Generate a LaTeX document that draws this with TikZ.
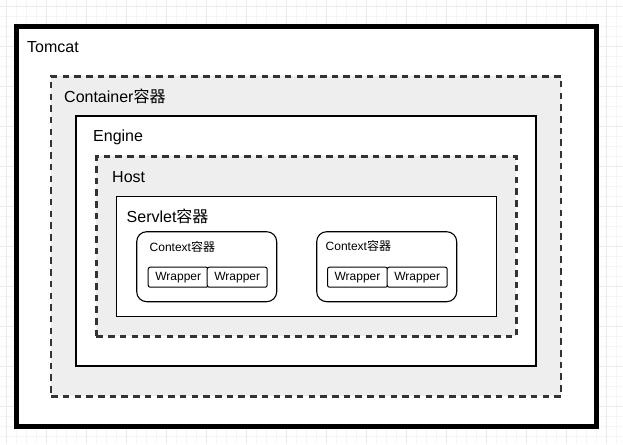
\documentclass[tikz,border=0pt]{standalone}
\usepackage{fontspec}
\setmainfont{Liberation Sans}
\newfontfamily\cjk{Noto Sans CJK SC}
\definecolor{gridminor}{HTML}{F5F5F5}
\definecolor{gridmajor}{HTML}{EBEBEB}
\definecolor{panel}{HTML}{EEEEEE}
\definecolor{dashline}{HTML}{333333}
\tikzset{
 frame/.style={draw=black, anchor=north west, inner sep=0pt, outer sep=0pt},
 tomcatbox/.style={frame, line width=4.7pt, fill=white},
 dashbox/.style={frame, draw=dashline, line width=2.2pt, fill=panel, dash pattern=on 6.5pt off 5.2pt},
 solidbox/.style={frame, line width=2.2pt, fill=white},
 thinbox/.style={frame, line width=1.2pt, fill=white},
 ctxbox/.style={frame, line width=1.1pt, fill=white, rounded corners=10pt},
 wrapbox/.style={draw=black, line width=1pt, fill=white, rounded corners=2pt, anchor=north west, minimum width=60, minimum height=20, inner sep=0pt, font=\fontsize{12}{14}\selectfont},
 biglabel/.style={anchor=base west, inner sep=0pt, font=\fontsize{16}{19}\selectfont},
 smalllabel/.style={anchor=base west, inner sep=0pt, font=\fontsize{12}{14}\selectfont},
}
\begin{document}
\begin{tikzpicture}[x=1pt,y=-1pt]
\useasboundingbox (0,0) rectangle (623,444);
\fill[white] (0,0) rectangle (623,444);
% grid
\foreach \k in {0,...,61} {
  \draw[gridminor, line width=0.8pt] ({6.67+10*\k},0) -- ({6.67+10*\k},444);
}
\foreach \k in {0,...,43} {
  \draw[gridminor, line width=0.8pt] (0,{6.67+10*\k}) -- (623,{6.67+10*\k});
}
\foreach \k in {0,...,15} {
  \draw[gridmajor, line width=0.8pt] ({6.67+40*\k},0) -- ({6.67+40*\k},444);
}
\foreach \k in {0,...,10} {
  \draw[gridmajor, line width=0.8pt] (0,{6.67+40*\k}) -- (623,{6.67+40*\k});
}
% boxes
\node[tomcatbox, minimum width=580, minimum height=400] (tomcat) at (16.7,26.7) {};
\node[dashbox, minimum width=510, minimum height=320] (container) at (51.2,76.4) {};
\node[solidbox, minimum width=460, minimum height=250] (engine) at (76.3,116.3) {};
\node[dashbox, minimum width=420, minimum height=180] (host) at (96.4,156.4) {};
\node[thinbox, minimum width=380, minimum height=120] (servlet) at (116.5,196.5) {};
\node[ctxbox, minimum width=140, minimum height=70] (ctxA) at (136.7,231.7) {};
\node[ctxbox, minimum width=140, minimum height=70] (ctxB) at (316.7,231.7) {};
\node[wrapbox] (wA1) at (147.7,266.7) {Wrapper};
\node[wrapbox] (wA2) at (206.7,266.7) {Wrapper};
\node[wrapbox] (wB1) at (327.0,266.7) {Wrapper};
\node[wrapbox] (wB2) at (386.7,266.7) {Wrapper};
% labels
\node[biglabel] (lTomcat) at (27,52.7) {Tomcat};
\node[biglabel] (lContainer) at (64,102.7) {Container{\cjk 容器}};
\node[biglabel] (lEngine) at (93,141.7) {Engine};
\node[biglabel] (lHost) at (112,182.3) {Host};
\node[biglabel] (lServlet) at (126.5,222) {Servlet{\cjk 容器}};
\node[smalllabel] (lCtxA) at (149.5,251) {Context{\cjk 容器}};
\node[smalllabel] (lCtxB) at (325.5,250.7) {Context{\cjk 容器}};
\end{tikzpicture}
\end{document}
